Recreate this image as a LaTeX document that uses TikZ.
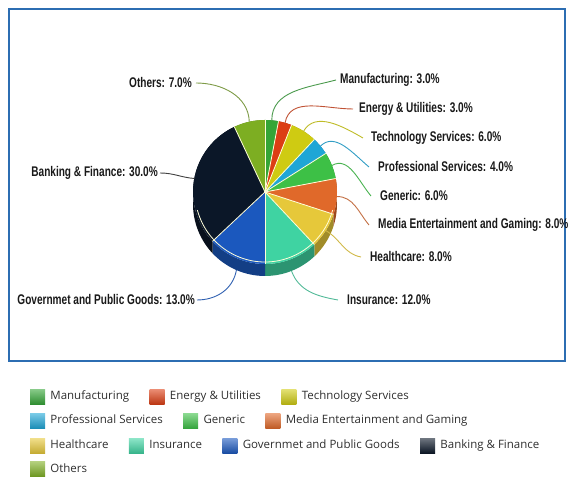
\documentclass[tikz,border=0pt]{standalone}
\usepackage{fontspec}
\setmainfont{Open Sans}
\newfontfamily\lblfont[FakeStretch=0.72]{Liberation Sans}
\usetikzlibrary{positioning}

\definecolor{cMan}{HTML}{35A537}
\definecolor{cEne}{HTML}{DC3E14}
\definecolor{cTec}{HTML}{CFCB12}
\definecolor{cPro}{HTML}{1FA6D6}
\definecolor{cGen}{HTML}{3DC046}
\definecolor{cMed}{HTML}{E0692A}
\definecolor{cHea}{HTML}{E6C83A}
\definecolor{cIns}{HTML}{3FD3A2}
\definecolor{cGov}{HTML}{1B58BE}
\definecolor{cBan}{HTML}{0B1728}
\definecolor{cOth}{HTML}{7DAE22}
\definecolor{frameblue}{HTML}{2C6DB2}

\begin{document}
\begin{tikzpicture}[x=1pt,y=1pt,
    lbl/.style={font=\lblfont\bfseries\fontsize{14}{16}\selectfont,inner sep=0pt,text=black!90},
    lead/.style={draw=#1,line width=0.9pt},
    key/.style={minimum size=15pt,inner sep=0pt,top color=#1!60!white,bottom color=#1!85!black},
    legtxt/.style={font=\fontsize{11.5}{13}\selectfont,inner sep=0pt,text=black!82,text height=8.5pt,text depth=2.5pt},
    sep/.style={draw=white!85!yellow,line width=0.8pt}]

  \useasboundingbox (0,0) rectangle (568,478);
  \draw[frameblue,line width=2pt] (9,117) rectangle (565,469);

  \coordinate (O) at (265,286);
  \coordinate (Ob) at (265,274);

  % side of the pie
  \foreach \a/\b/\c in {90/79.2/cMan,79.2/68.4/cEne,68.4/46.8/cTec,46.8/32.4/cPro,
      32.4/10.8/cGen,10.8/-18/cMed,-18/-46.8/cHea,-46.8/-90/cIns,-90/-136.8/cGov,
      -136.8/-244.8/cBan,-244.8/-270/cOth}
    \fill[\c!70!black] (O) ++(\a:72) arc[start angle=\a,end angle=\b,radius=72]
      -- ++(0,-12) arc[start angle=\b,end angle=\a,radius=72] -- cycle;

  % top of the pie
  \foreach \a/\b/\c in {90/79.2/cMan,79.2/68.4/cEne,68.4/46.8/cTec,46.8/32.4/cPro,
      32.4/10.8/cGen,10.8/-18/cMed,-18/-46.8/cHea,-46.8/-90/cIns,-90/-136.8/cGov,
      -136.8/-244.8/cBan,-244.8/-270/cOth}
    \fill[\c] (O) -- ++(\a:72) arc[start angle=\a,end angle=\b,radius=72] -- cycle;
  \foreach \a in {90,79.2,68.4,46.8,32.4,10.8,-18,-46.8,-90,-136.8,-244.8}
    \draw[sep] (O) -- ++(\a:72);
  \draw[sep] (O) ++(195:70) arc[start angle=195,end angle=345,radius=70];

  \path (O) ++(84.6:72) coordinate (pMan);
  \path (O) ++(73.8:72) coordinate (pEne);
  \path (O) ++(57.6:72) coordinate (pTec);
  \path (O) ++(39.6:72) coordinate (pPro);
  \path (O) ++(21.6:72) coordinate (pGen);
  \path (O) ++(-3.6:72) coordinate (pMed);
  \path (O) ++(-32.4:72) coordinate (pHea);
  \path (Ob) ++(-68.4:72) coordinate (pIns);
  \path (Ob) ++(-113.4:72) coordinate (pGov);
  \path (O) ++(169.2:72) coordinate (pBan);
  \path (O) ++(102.6:72) coordinate (pOth);

  \node[lbl,anchor=west] (lMan) at (340,398) {Manufacturing: 3.0\%};
  \node[lbl,anchor=west] (lEne) at (359,369) {Energy \& Utilities: 3.0\%};
  \node[lbl,anchor=west] (lTec) at (371,340) {Technology Services: 6.0\%};
  \node[lbl,anchor=west] (lPro) at (378,311) {Professional Services: 4.0\%};
  \node[lbl,anchor=west] (lGen) at (380,282) {Generic: 6.0\%};
  \node[lbl,anchor=west] (lMed) at (378,253) {Media Entertainment and Gaming: 8.0\%};
  \node[lbl,anchor=west] (lHea) at (370,221) {Healthcare: 8.0\%};
  \node[lbl,anchor=west] (lIns) at (347,178) {Insurance: 12.0\%};
  \node[lbl,anchor=east] (lGov) at (195,178) {Governmet and Public Goods: 13.0\%};
  \node[lbl,anchor=east] (lBan) at (158,305) {Banking \& Finance: 30.0\%};
  \node[lbl,anchor=east] (lOth) at (192,395) {Others: 7.0\%};

  \draw[lead=cMan!70!gray] (pMan) to[out=90,in=195] ([xshift=-4pt]lMan.west);
  \draw[lead=cEne!70!gray] (pEne) to[out=80,in=180] ([xshift=-6pt]lEne.west);
  \draw[lead=cTec!80!gray] (pTec) to[out=60,in=150] ([xshift=-8pt]lTec.west);
  \draw[lead=cPro!80!gray] (pPro) to[out=45,in=140] ([xshift=-9pt]lPro.west);
  \draw[lead=cGen!80!gray] (pGen) to[out=30,in=130] ([xshift=-9pt]lGen.west);
  \draw[lead=cMed!70!gray] (pMed) to[out=0,in=130] ([xshift=-9pt]lMed.west);
  \draw[lead=cHea!80!gray] (pHea) to[out=-30,in=170] ([xshift=-9pt]lHea.west);
  \draw[lead=cIns!70!gray] (pIns) to[out=-70,in=170] ([xshift=-9pt]lIns.west);
  \draw[lead=cGov!80!gray] (pGov) to[out=-100,in=0] ([xshift=2pt]lGov.east);
  \draw[lead=black!75] (pBan) to[out=175,in=0] ([xshift=2pt]lBan.east);
  \draw[lead=cOth!60!gray] (pOth) to[out=92,in=0] ([xshift=4pt]lOth.east);

  % legend
  \node[key=cMan] (kMan) at (37.5,81) {};
  \node[legtxt,right=5pt of kMan] (tMan) {Manufacturing};
  \node[key=cEne,right=20pt of tMan] (kEne) {};
  \node[legtxt,right=5pt of kEne] (tEne) {Energy \& Utilities};
  \node[key=cTec,right=20pt of tEne] (kTec) {};
  \node[legtxt,right=5pt of kTec] (tTec) {Technology Services};

  \node[key=cPro] (kPro) at (37.5,57) {};
  \node[legtxt,right=5pt of kPro] (tPro) {Professional Services};
  \node[key=cGen,right=20pt of tPro] (kGen) {};
  \node[legtxt,right=5pt of kGen] (tGen) {Generic};
  \node[key=cMed,right=20pt of tGen] (kMed) {};
  \node[legtxt,right=5pt of kMed] (tMed) {Media Entertainment and Gaming};

  \node[key=cHea] (kHea) at (37.5,32) {};
  \node[legtxt,right=5pt of kHea] (tHea) {Healthcare};
  \node[key=cIns,right=20pt of tHea] (kIns) {};
  \node[legtxt,right=5pt of kIns] (tIns) {Insurance};
  \node[key=cGov,right=20pt of tIns] (kGov) {};
  \node[legtxt,right=5pt of kGov] (tGov) {Governmet and Public Goods};
  \node[key=cBan,right=20pt of tGov] (kBan) {};
  \node[legtxt,right=5pt of kBan] (tBan) {Banking \& Finance};

  \node[key=cOth] (kOth) at (37.5,8.5) {};
  \node[legtxt,right=5pt of kOth] (tOth) {Others};
\end{tikzpicture}
\end{document}
